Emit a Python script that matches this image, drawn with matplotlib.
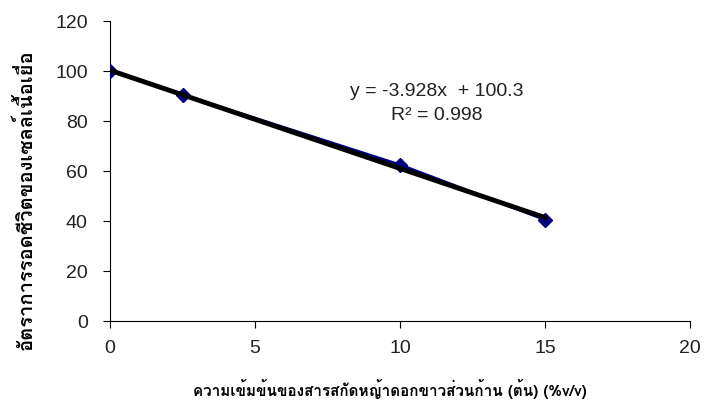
import numpy as np
import matplotlib.pyplot as plt
from matplotlib import font_manager
from matplotlib.ft2font import FT2Font

# concentration (%v/v) and survival (%)
conc = [0, 2.5, 10, 15]
survival = [100, 90.5, 62.5, 40.5]
slope = -3.928
intercept = 100.3
r2 = 0.998

xlabel = "ความเข้มข้นของสารสกัดหญ้าดอกขาวส่วนก้าน (ต้น) (%v/v)"
ylabel = "อัตราการรอดชีวิตของเซลล์เนื้อเยื่อ"

def thai_font():
    for f in font_manager.fontManager.ttflist:
        try:
            if ord("ก") in FT2Font(f.fname).get_charmap():
                return f.name
        except Exception:
            pass
    return "DejaVu Sans"

tf = thai_font()
plt.rcParams['font.family'] = ['Liberation Sans', 'DejaVu Sans']

fig = plt.figure(figsize=(7.05, 4.15), dpi=100)
ax = fig.add_axes([110/705, 94/415, 580/705, 300/415])

ax.plot(conc, survival, color='#000080', lw=2, marker='D', ms=7, zorder=3)
xt = np.array([conc[0], conc[-1]])
ax.plot(xt, slope*xt + intercept, color='black', lw=3.5, zorder=4)

ax.text(11.28, 91.6, "y = -3.928x  + 100.3", ha='center', va='center', fontsize=14, color='#222222')
ax.text(11.28, 82, "R² = 0.998", ha='center', va='center', fontsize=14, color='#222222')

ax.set_xlim(0, 20)
ax.set_ylim(0, 120)
ax.set_xticks([0, 5, 10, 15, 20])
ax.set_yticks(range(0, 121, 20))
ax.spines['top'].set_visible(False)
ax.spines['right'].set_visible(False)
ax.tick_params(labelsize=14, direction='out', length=5, pad=11, colors='black', labelcolor='#222222')
ax.tick_params(axis='x', pad=9)

ax.set_xlabel(xlabel, family=[tf, 'DejaVu Sans'], fontweight='bold', fontsize=11, va='center')
ax.xaxis.set_label_coords(0.483, -0.227)
ax.set_ylabel(ylabel, family=[tf, 'DejaVu Sans'], fontweight='bold', fontsize=14.5, va='center')
ax.yaxis.set_label_coords(-0.1466, 0.403)

fig.savefig("out.png", dpi=100)
